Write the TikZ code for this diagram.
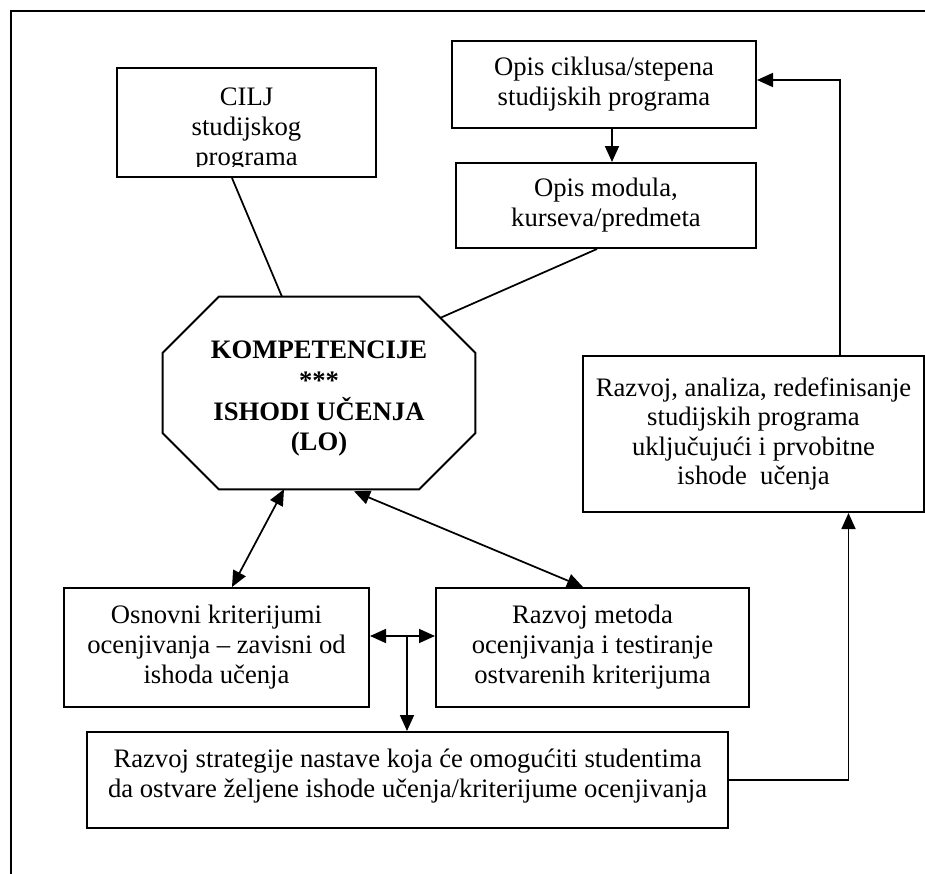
\documentclass[tikz,border=0pt]{standalone}
\usepackage{fontspec}
\setmainfont{Liberation Serif}
\usetikzlibrary{arrows.meta,calc}
\begin{document}
\begin{tikzpicture}[x=0.75pt,y=-0.75pt,
  txt/.style={inner sep=0pt,align=center,font=\fontsize{20}{22.5}\selectfont},
  box/.style={txt,draw,line width=1.5pt,rectangle},
  con/.style={line width=1.3pt},
  arw/.style={con,-{Triangle[length=12pt,width=10.5pt]}},
  darw/.style={con,{Triangle[length=12pt,width=10.5pt]}-{Triangle[length=12pt,width=10.5pt]}}
]
\useasboundingbox (0,0) rectangle (925,874);
% frame
\draw[line width=1.5pt] (11,874) -- (11,11) -- (925,11);

% boxes
\node[box,minimum width=194.25pt,minimum height=81.75pt] (cilj) at (246.5,122.5) {};
\begin{scope}
  \clip (117,68) rectangle (376,166);
  \node[txt] (ciljtxt) at (246.5,130) {CILJ\\studijskog\\programa};
\end{scope}
\node[box,minimum width=228pt,minimum height=65.25pt] (ciklus) at (604,84.5) {Opis ciklusa/stepena\\studijskih programa};
\node[box,minimum width=225pt,minimum height=63.75pt] (modul) at (606,205.5) {Opis modula,\\kurseva/predmeta};
\node[inner sep=0pt,minimum width=234pt,minimum height=144pt] (oct) at (319,393) {};
\node[txt,font=\fontsize{20}{23}\selectfont\bfseries] (octtxt) at (319,399) {KOMPETENCIJE\\***\\ISHODI UČENJA\\(LO)};
\draw[line width=1.5pt] ($(oct.north west)+(56,0)$) -- ($(oct.north east)+(-56,0)$) -- ($(oct.north east)+(0,56)$) -- ($(oct.south east)+(0,-56)$) -- ($(oct.south east)+(-56,0)$) -- ($(oct.south west)+(56,0)$) -- ($(oct.south west)+(0,-56)$) -- ($(oct.north west)+(0,56)$) -- cycle;
\node[box,minimum width=255.75pt,minimum height=117pt,font=\fontsize{20}{22}\selectfont] (analiza) at (753.5,434) {Razvoj, analiza, redefinisanje\\studijskih programa\\uključujući i prvobitne\\ishode\ \ učenja};
\node[box,minimum width=228.75pt,minimum height=89.25pt] (osnovni) at (216.5,647.5) {Osnovni kriterijumi\\ocenjivanja – zavisni od\\ishoda učenja};
\node[box,minimum width=234.75pt,minimum height=89.25pt] (metoda) at (592.5,647.5) {Razvoj metoda\\ocenjivanja i testiranje\\ostvarenih kriterijuma};
\node[box,minimum width=480.75pt,minimum height=72pt] (strat) at (407.5,780) {};
\node[txt] (strattxt) at (407.5,776) {Razvoj strategije nastave koja će omogućiti studentima\\da ostvare željene ishode učenja/kriterijume ocenjivanja};

% connectors
\draw[con] ($(cilj.south)+(-14.5,0)$) -- ($(oct.north)+(-37,0)$);
\draw[con] ($(modul.south)+(-9,0)$) -- ($(oct.center)+(121,-75)$);
\draw[arw] ($(ciklus.south)+(8,0)$) coordinate (cm) -- (cm |- modul.north);
\draw[arw] ($(analiza.north)+(86.5,0)$) |- ($(ciklus.east)+(0,-4.5)$);
\draw[arw] (strat.east) -| ($(analiza.south)+(95,0)$);
\draw[darw] ($(oct.south)+(-35,0)$) -- ($(osnovni.north)+(15.5,0)$);
\draw[darw] ($(oct.south)+(35,2)$) -- ($(metoda.north)+(-9.5,0)$);
\draw[darw] ($(osnovni.east)+(0,-11.5)$) coordinate (h1) -- (h1 -| metoda.west);
\draw[arw] ($(h1)+(37,0)$) coordinate (hv) -- (hv |- strat.north);
\end{tikzpicture}
\end{document}
